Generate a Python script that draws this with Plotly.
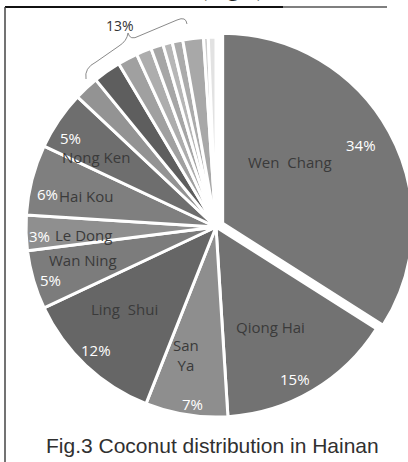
import math
import plotly.graph_objects as go

# ---------------- data ----------------
names = ["Wen Chang", "Qiong Hai", "San Ya", "Ling Shui", "Wan Ning", "Le Dong",
         "Hai Kou", "Nong Ken",
         "o1", "o2", "o3", "o4", "o5", "o6", "o7", "o8", "o9", "o10"]
values = [34, 15, 7, 12, 5, 3, 6, 5,
          2.1, 2.35, 1.7, 1.3, 1.05, 0.8, 0.9, 1.75, 0.4, 0.65]
shown_labels = ["Wen  Chang", "Qiong Hai", "San<br>Ya", "Ling  Shui", "Wan Ning",
                "Le Dong", "Hai Kou", "Nong Ken"]
shown_pcts = ["34%", "15%", "7%", "12%", "5%", "3%", "6%", "5%"]
others_label = "13%"
title_text = "Fig.3 Coconut distribution in Hainan"

# ---------------- styles ----------------
colors = ["#767676", "#727272", "#8e8e8e", "#666666", "#7c7c7c", "#8f8f8f",
          "#7f7f7f", "#6e6e6e",
          "#939393", "#5e5e5e", "#a0a0a0", "#adadad", "#a6a6a6", "#b6b6b6",
          "#ababab", "#a8a8a8", "#cdcdcd", "#e2e2e2"]
pulls = [0.04] + [0] * (len(values) - 1)

W, H = 420, 462          # page window is 408 wide; the extra strip is clipped
cx_px, cy_px = 216.0, 227.0
R_target = 190.0
half = R_target * (1 + max(pulls))
R = half / (1 + max(pulls))
dom_x = [(cx_px - half) / W, (cx_px + half) / W]
dom_y = [1 - (cy_px + half) / H, 1 - (cy_px - half) / H]

fig = go.Figure(go.Pie(
    labels=names, values=values, sort=False, direction="clockwise", rotation=0,
    marker=dict(colors=colors, line=dict(color="white", width=3)),
    pull=pulls, textinfo="none", hoverinfo="label+percent", showlegend=False,
    domain=dict(x=dom_x, y=dom_y),
))

def px2paper(x, y):
    return x / W, 1 - y / H

def txt(xp, yp, text, size, color, family="Open Sans", **kw):
    x, y = px2paper(xp, yp)
    d = dict(x=x, y=y, xref="paper", yref="paper", text=text, showarrow=False,
             xanchor="center", yanchor="middle",
             font=dict(family=family, size=size, color=color))
    d.update(kw)
    return d

total = sum(values)
annotations = []
cum = 0.0
# label placement (radius fraction, angle offset from slice middle)
name_r = [0.48, 0.60, 0.69, 0.65, 0.72, 0.70, 0.70, 0.73]
name_da = [-13.5, 2.2, 4.3, 4.9, 2.4, -1.6, -0.9, -3.7]
pct_r = [0.84, 0.90, 0.94, 0.905, 0.915, 0.93, 0.905, 0.90]
pct_da = [-0.8, 3.1, -1.3, 1.0, -1.4, -1.1, -3.4, -2.8]
for i, v in enumerate(values):
    mid = (cum + v / 2) / total * 360
    cum += v
    if i >= len(shown_labels):
        continue
    ox = cx_px + pulls[i] * R * math.sin(math.radians(mid))
    oy = cy_px - pulls[i] * R * math.cos(math.radians(mid))
    a = math.radians(mid + name_da[i])
    annotations.append(txt(ox + name_r[i] * R * math.sin(a), oy - name_r[i] * R * math.cos(a),
                           shown_labels[i], 15, "#3a3a3a"))
    a = math.radians(mid + pct_da[i])
    annotations.append(txt(ox + pct_r[i] * R * math.sin(a), oy - pct_r[i] * R * math.cos(a),
                           shown_pcts[i], 15, "white"))

annotations.append(txt(120, 26, others_label, 14, "#333333"))
annotations.append(txt(212, 445, title_text, 21, "#303030", family="Liberation Sans"))
annotations.append(txt(232, 3, "(Fig.2)", 24, "#222222", family="Liberation Serif",
                       yanchor="bottom"))

# brace over the small slices
pts = "M 86,79 Q 84,68 96,62 L 119,46 Q 127,41 128,33 Q 130,41 139,36 L 177,20 Q 186,16 187,24"
def conv_path(p):
    out = []
    for tok in p.split():
        if "," in tok:
            a, b = tok.split(",")
            xx, yy = px2paper(float(a), float(b))
            out.append(f"{xx:.4f},{yy:.4f}")
        else:
            out.append(tok)
    return " ".join(out)

shapes = [
    dict(type="path", xref="paper", yref="paper", path=conv_path(pts),
         line=dict(color="#8a8a8a", width=1)),
    dict(type="line", xref="paper", yref="paper", x0=5 / W, x1=283 / W, y0=1 - 7 / H, y1=1 - 7 / H,
         line=dict(color="#111111", width=2)),
    dict(type="line", xref="paper", yref="paper", x0=283 / W, x1=387 / W, y0=1 - 7 / H, y1=1 - 7 / H,
         line=dict(color="#555555", width=1.5)),
    dict(type="line", xref="paper", yref="paper", x0=5 / W, x1=5 / W, y0=1 - 7 / H, y1=0,
         line=dict(color="#444444", width=1.5)),
]

fig.update_layout(width=W, height=H, margin=dict(l=0, r=0, t=0, b=0),
                  paper_bgcolor="white", plot_bgcolor="white",
                  annotations=annotations, shapes=shapes)
fig.write_html("out.html", config={"displayModeBar": False},
               post_script="document.body.style.margin='0';document.body.style.overflow='hidden';")
